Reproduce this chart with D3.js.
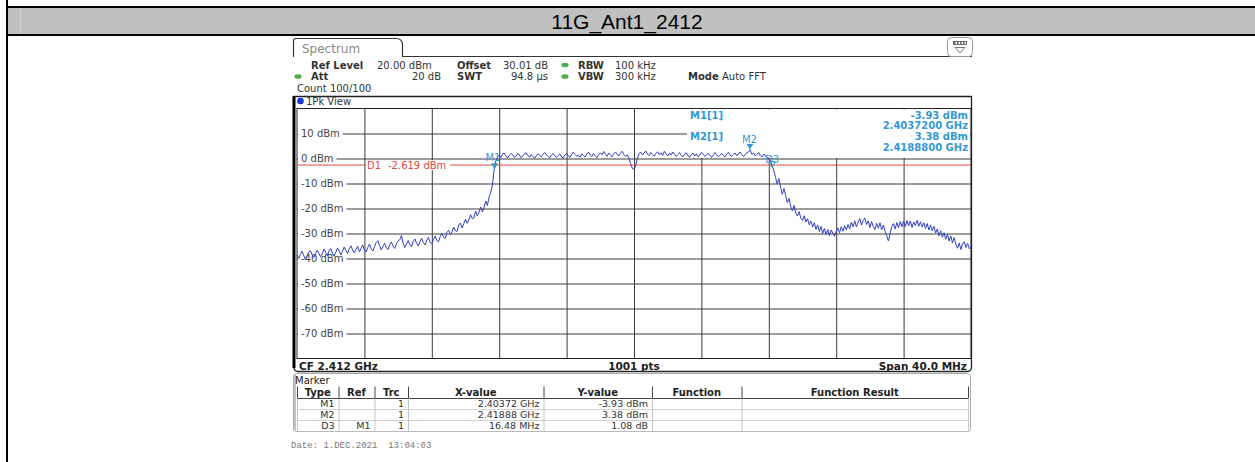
<!DOCTYPE html>
<html><head><meta charset="utf-8">
<script src="https://cdn.jsdelivr.net/npm/d3@7"></script>
<style>
body{margin:0;background:#fff;}
svg{display:block;}
text{font-family:"DejaVu Sans",Verdana,sans-serif;}
</style>
</head><body>
<svg id="c" width="1255" height="462"></svg>
<script>
// ---------------- data ----------------
const chartTitle = "11G_Ant1_2412";
const freqStartGHz = 2.392;
const freqStopGHz = 2.432;
const levelTop = 20;
const levelBottom = -80;
const levelTicks = [10, 0, -10, -20, -30, -40, -50, -60, -70];
const levelTickLabels = ["10 dBm", "0 dBm", "-10 dBm", "-20 dBm", "-30 dBm", "-40 dBm", "-50 dBm", "-60 dBm", "-70 dBm"];
const displayLineLevel = -2.619;
const displayLineLabel = ["D1", "-2.619 dBm"];
// trace levels (dBm), equally spaced sweep points across the span
const traceLevels = [
 -38.6,-39.9,-38.4,-37.1,-38.8,-40.2,-39.0,-37.4,-36.9,-38.5,
 -39.6,-38.0,-36.7,-37.9,-39.3,-38.1,-36.2,-37.4,-38.9,-37.0,
 -36.0,-37.8,-39.0,-37.5,-35.8,-36.9,-38.6,-37.2,-35.4,-36.8,
 -38.0,-36.1,-34.9,-36.6,-37.8,-36.3,-35.1,-37.4,-36.0,-34.6,
 -36.5,
 -37.4,-35.6,-34.2,-36.1,-37.0,-35.3,-33.6,-32.9,-34.8,-36.6,
 -35.2,-33.9,-35.7,-36.4,-34.5,-33.4,-35.0,-36.0,-34.1,-33.0,
 -32.5,-30.8,-33.9,-35.6,-34.2,-32.8,-34.5,-35.3,-33.1,-32.2,
 -34.0,-35.0,-33.2,-31.9,-33.6,-34.6,-32.7,-31.6,-33.5,-34.1,
 -32.4,-31.0,-32.8,-33.3,-31.2,-29.9,-31.6,-32.0,-29.6,-28.7,
 -30.3,-29.4,-27.4,-28.9,-29.2,-26.6,-25.8,-27.8,-26.0,-24.3,
 -25.9,-24.6,-22.5,-24.1,-23.8,-21.0,-22.9,-21.6,-19.4,-21.3,
 -19.6,-17.0,-18.8,-15.4,-13.6,-10.5,-4.5,-1.0,0.6,1.3,
 0.4,1.8,2.2,1.0,0.2,1.3,2.0,1.5,0.5,0.9,
 2.1,1.4,0.3,1.0,1.9,2.3,1.2,0.6,1.6,0.8,
 0.1,1.1,1.9,1.3,0.7,1.7,2.4,1.5,0.8,0.3,
 1.4,2.0,1.1,0.5,1.2,1.8,0.6,0.2,1.5,2.1,
 1.0,0.4,1.7,2.5,1.6,0.9,1.3,0.5,1.9,1.2,
 0.6,1.8,2.6,1.4,0.8,2.0,1.1,0.4,1.6,2.3,
 1.5,2.8,1.7,0.9,2.2,1.3,0.7,1.9,2.6,1.8,
 1.0,2.1,2.9,1.6,0.8,1.4,0.2,-2.1,-3.9,-4.3,
 -2.8,0.1,1.9,2.6,1.4,2.2,3.0,1.8,1.1,2.4,
 1.6,0.9,2.0,2.7,1.5,2.3,1.2,2.9,1.9,1.0,
 2.2,1.4,2.6,1.7,0.8,1.5,2.4,1.3,0.6,1.8,
 2.3,1.1,0.5,1.6,2.2,1.0,1.9,0.7,1.4,2.5,
 1.7,0.9,1.5,2.1,1.2,0.4,1.3,2.4,1.6,0.8,
 1.2,2.0,1.3,0.6,1.8,2.5,1.4,0.9,1.6,2.2,
 1.1,1.9,2.6,1.5,0.8,1.7,2.3,2.7,3.4,1.6,
 2.2,1.0,1.7,2.4,1.1,0.6,1.8,0.9,0.3,
 0.2,-1.0,-2.9,-4.8,-7.5,-10.2,-8.0,-11.6,-14.3,-12.0,-14.8,
 -17.6,-16.0,-19.2,-20.9,-18.8,-21.8,-23.0,-21.2,-23.9,-24.8,
 -22.9,-25.4,-24.1,-26.5,-25.0,-27.4,-25.7,-28.3,-26.6,-29.2,
 -27.2,-29.9,-28.0,-30.4,-28.4,-30.9,-28.6,-29.8,-31.2,-29.0,
 -27.8,-29.7,-27.3,-29.1,-26.8,-28.6,-26.4,-28.2,-25.4,-27.3,
 -24.9,-27.4,-25.5,-24.0,-26.7,-24.8,-23.8,-26.4,-24.9,-27.6,
 -25.2,-27.3,-28.4,-25.9,-27.9,-25.7,-28.5,-26.6,-29.2,-30.9,
 -33.0,-30.0,-27.2,-26.0,-28.2,-25.6,-27.7,-25.2,-27.3,-25.0,
 -27.2,-24.8,-26.9,-25.0,-27.6,-25.4,-26.8,-24.7,-27.1,-25.3,
 -27.4,-25.7,-28.0,-26.0,-28.6,-26.6,-28.9,-27.1,-29.8,-28.2,
 -30.9,-28.9,-31.5,-29.7,-32.3,-30.2,-33.0,-31.0,-33.7,-31.6,
 -34.3,-35.9,-33.8,-36.4,-34.2,-33.3,-35.6,-33.9,-36.1,-35.5
];
const markerNames = ["M1", "M2", "D3"];
const markerFreqsGHz = [2.40372, 2.41888, 2.42020];
const markerLevels = [-3.93, 3.38, -2.85];
const markerInfoNames = ["M1[1]", "M2[1]"];
const markerInfoLevels = ["-3.93 dBm", "3.38 dBm"];
const markerInfoFreqs = ["2.4037200 GHz", "2.4188800 GHz"];
const tableHeaders = ["Type", "Ref", "Trc", "X-value", "Y-value", "Function", "Function Result"];
const tableTypes = ["M1", "M2", "D3"];
const tableRefs = ["", "", "M1"];
const tableTrcs = ["1", "1", "1"];
const tableXValues = ["2.40372 GHz", "2.41888 GHz", "16.48 MHz"];
const tableYValues = ["-3.93 dBm", "3.38 dBm", "1.08 dB"];
const footerLeft = "CF 2.412 GHz", footerMid = "1001 pts", footerRight = "Span 40.0 MHz";
const dateText = "Date: 1.DEC.2021  13:04:03";

// ---------------- layout ----------------
const svg = d3.select("#c");
const px0 = 297, px1 = 971, py0 = 108.5, py1 = 358.5;
const x = d3.scaleLinear().domain([freqStartGHz, freqStopGHz]).range([px0, px1]);
const y = d3.scaleLinear().domain([levelBottom, levelTop]).range([py1, py0]);
const traceFreqs = d3.range(traceLevels.length).map(i => freqStartGHz + i * (freqStopGHz - freqStartGHz) / (traceLevels.length - 1));

const markerBlue = "#3399d6", traceBlue = "#2f3fc2", red = "#e2483f";

// outer page frame
svg.append("rect").attr("x", 8).attr("y", 8).attr("width", 1247).attr("height", 26).attr("fill", "#c0c0c0");
svg.append("line").attr("x1", 20.5).attr("x2", 20.5).attr("y1", 8).attr("y2", 34).attr("stroke", "#d4d4d4");
svg.append("line").attr("x1", 6).attr("x2", 1255).attr("y1", 7).attr("y2", 7).attr("stroke", "#000").attr("stroke-width", 2);
svg.append("line").attr("x1", 6).attr("x2", 1255).attr("y1", 35).attr("y2", 35).attr("stroke", "#000").attr("stroke-width", 2);
svg.append("line").attr("x1", 7).attr("x2", 7).attr("y1", 0).attr("y2", 462).attr("stroke", "#000").attr("stroke-width", 2);
svg.append("text").attr("x", 627).attr("y", 28.5).attr("text-anchor", "middle")
  .style("font-family", "'Liberation Sans Narrow','Arial Narrow','Liberation Sans',sans-serif")
  .style("font-size", "21px").attr("fill", "#000").text(chartTitle);

// Spectrum tab
svg.append("path").attr("d", "M293.5,57 V41 Q293.5,38.5 296.5,38.5 H396 Q402.5,38.5 402.5,45 V56.5 H972")
  .attr("fill", "none").attr("stroke", "#333").attr("stroke-width", 1.2);
svg.append("text").attr("x", 302).attr("y", 52.5).style("font-size", "12px").attr("fill", "#8a8a8a").text("Spectrum");
// icon
svg.append("rect").attr("x", 947.5).attr("y", 37.5).attr("width", 25).attr("height", 19).attr("rx", 4)
  .attr("fill", "#fff").attr("stroke", "#999");
svg.append("rect").attr("x", 953).attr("y", 41).attr("width", 14).attr("height", 4).attr("fill", "#666");
[955.5, 958.5, 961.5, 964.5].forEach(cx => svg.append("rect").attr("x", cx).attr("y", 42).attr("width", 1.5).attr("height", 2).attr("fill", "#fff"));
svg.append("path").attr("d", "M955,47.5 H965 L960,53 Z").attr("fill", "none").attr("stroke", "#777");

// settings text
function t(xp, yp, s, opts = {}) {
  return svg.append("text").attr("x", xp).attr("y", yp).style("font-size", (opts.size || 10) + "px")
    .style("font-weight", opts.bold ? "bold" : "normal").attr("fill", opts.fill || "#333")
    .attr("text-anchor", opts.anchor || "start").style("white-space", "pre").text(s);
}
function dot(cx, cy) {
  svg.append("ellipse").attr("cx", cx).attr("cy", cy).attr("rx", 3.6).attr("ry", 2.3).attr("fill", "#4cae4c");
}
t(311, 68.5, "Ref Level", {bold: true}); t(377, 68.5, "20.00 dBm");
t(457, 68.5, "Offset", {bold: true}); t(548, 68.5, "30.01 dB", {anchor: "end"});
dot(565, 65); t(578, 68.5, "RBW", {bold: true}); t(615, 68.5, "100 kHz");
dot(298, 76.5); t(311, 80, "Att", {bold: true}); t(441, 80, "20 dB", {anchor: "end"});
t(457, 80, "SWT", {bold: true}); t(548, 80, "94.8 µs", {anchor: "end"});
dot(565, 76.5); t(578, 80, "VBW", {bold: true}); t(615, 80, "300 kHz");
t(688, 80, "Mode", {bold: true}); t(722, 80, "Auto FFT");
t(297, 91.5, "Count 100/100");

// 1Pk View frame
svg.append("path").attr("d", `M294,96.5 H971.5 V367 Q971.5,371.5 967,371.5 H298 Q294,371.5 294,367 Z`)
  .attr("fill", "#fff").attr("stroke", "#222").attr("stroke-width", 1.3);
svg.append("line").attr("x1", 294).attr("x2", 294).attr("y1", 96).attr("y2", 368).attr("stroke", "#000").attr("stroke-width", 3);
svg.append("circle").attr("cx", 300.5).attr("cy", 101).attr("r", 3.3).attr("fill", "#1f35d0");
t(306, 104.5, "1Pk View");

// grid via axes
const yAxis = d3.axisLeft(y).tickValues(levelTicks).tickSize(-(px1 - px0)).tickPadding(0)
  .tickFormat((d, i) => levelTickLabels[i]);
const gy = svg.append("g").attr("transform", `translate(${px0},0)`).call(yAxis);
gy.select(".domain").remove();
gy.selectAll(".tick line").attr("stroke", "#3a3a3a").attr("stroke-width", 1);
gy.selectAll(".tick text").attr("x", 4).attr("text-anchor", "start").attr("fill", "#444")
  .style("font-family", "'DejaVu Sans',sans-serif").style("font-size", "10px");

const divs = d3.range(1, 10).map(k => freqStartGHz + k * (freqStopGHz - freqStartGHz) / 10);
const xAxis = d3.axisBottom(x).tickValues(divs).tickSize(-(py1 - py0)).tickFormat("");
const gx = svg.append("g").attr("transform", `translate(0,${py1})`).call(xAxis);
gx.select(".domain").remove();
gx.selectAll(".tick line").attr("stroke", "#3a3a3a").attr("stroke-width", 1);

// plot border
svg.append("rect").attr("x", px0).attr("y", py0).attr("width", px1 - px0).attr("height", py1 - py0)
  .attr("fill", "none").attr("stroke", "#222").attr("stroke-width", 1);

// label backgrounds
gy.selectAll(".tick").each(function() {
  const g = d3.select(this);
  const bb = g.select("text").node().getBBox();
  g.insert("rect", "text").attr("x", 1).attr("y", bb.y + 1).attr("width", bb.width + 6).attr("height", bb.height - 2).attr("fill", "#fff");
});

// marker info background
svg.append("rect").attr("x", 687).attr("y", py0 + 1).attr("width", px1 - 688).attr("height", y(0) - py0 - 1.5).attr("fill", "#fff");

// display line
svg.append("line").attr("x1", px0).attr("x2", px1).attr("y1", y(displayLineLevel)).attr("y2", y(displayLineLevel))
  .attr("stroke", red).attr("stroke-width", 1);
svg.append("rect").attr("x", 366).attr("y", y(displayLineLevel) - 5).attr("width", 84).attr("height", 10).attr("fill", "#fff");
t(367, y(displayLineLevel) + 4, displayLineLabel[0], {fill: red});
t(388, y(displayLineLevel) + 4, displayLineLabel[1], {fill: red});

// trace
const line = d3.line().x((d, i) => x(traceFreqs[i])).y(d => y(d));
svg.append("path").datum(traceLevels).attr("d", line).attr("fill", "none")
  .attr("stroke", traceBlue).attr("stroke-width", 1).attr("stroke-linejoin", "round");

// markers
markerNames.forEach((m, i) => {
  const mx = x(markerFreqsGHz[i]), my = y(markerLevels[i]);
  if (m === "D3") {
    svg.append("path").attr("d", `M${mx - 3},${my - 4} L${mx + 3},${my - 4} L${mx},${my + 2} Z`)
      .attr("fill", "none").attr("stroke", markerBlue).attr("stroke-width", 1);
    t(mx - 7, my - 2.5, m, {fill: markerBlue, size: 10});
  } else if (m === "M2") {
    svg.append("line").attr("x1", mx).attr("x2", mx).attr("y1", my - 5).attr("y2", my).attr("stroke", markerBlue);
    svg.append("path").attr("d", `M${mx - 3.5},${my - 6} L${mx + 3.5},${my - 6} L${mx},${my - 1} Z`).attr("fill", markerBlue);
    t(mx - 8, my - 7, m, {fill: markerBlue, size: 10});
  } else {
    svg.append("path").attr("d", `M${mx - 3.5},${my - 5} L${mx + 3.5},${my - 5} L${mx},${my + 1} Z`).attr("fill", markerBlue);
    t(mx - 9, my - 7, m, {fill: markerBlue, size: 10});
  }
});

// marker info text
markerInfoNames.forEach((n, i) => {
  const by = 118.5 + i * 21.5;
  t(690, by, n, {bold: true, fill: markerBlue});
  t(968, by, markerInfoLevels[i], {bold: true, fill: markerBlue, anchor: "end"});
  t(968, by + 10.8, markerInfoFreqs[i], {bold: true, fill: markerBlue, anchor: "end"});
});

// footer bar
svg.append("line").attr("x1", px0).attr("x2", px1).attr("y1", py1).attr("y2", py1).attr("stroke", "#222");
t(299, 369.5, footerLeft, {bold: true, size: 10.5, fill: "#222"});
t(634, 369.5, footerMid, {bold: true, size: 10.5, fill: "#222", anchor: "middle"});
t(967, 369.5, footerRight, {bold: true, size: 10.5, fill: "#222", anchor: "end"});

// marker table
svg.append("rect").attr("x", 293.5).attr("y", 373.5).attr("width", 677).attr("height", 58).attr("rx", 3)
  .attr("fill", "#fff").attr("stroke", "#aaa");
svg.append("line").attr("x1", 295).attr("x2", 295).attr("y1", 375).attr("y2", 430).attr("stroke", "#888");
t(295, 384, "Marker", {fill: "#222"});
const colEdges = [297, 338.5, 374.5, 408, 543.5, 652, 741.5, 968];
const hTop = 386.5, hBot = 398.5, rowH = 11;
svg.append("line").attr("x1", colEdges[0]).attr("x2", colEdges[7]).attr("y1", hBot).attr("y2", hBot).attr("stroke", "#444");
for (let r = 1; r <= 3; r++) {
  svg.append("line").attr("x1", colEdges[0]).attr("x2", colEdges[7]).attr("y1", hBot + r * rowH).attr("y2", hBot + r * rowH)
    .attr("stroke", r === 3 ? "#bbb" : "#d0d0d0");
}
colEdges.forEach((cx, i) => {
  svg.append("line").attr("x1", cx + 0.5).attr("x2", cx + 0.5).attr("y1", hTop).attr("y2", hBot).attr("stroke", "#444");
  svg.append("line").attr("x1", cx + 0.5).attr("x2", cx + 0.5).attr("y1", hBot).attr("y2", hBot + 3 * rowH).attr("stroke", "#c4c4c4");
});
tableHeaders.forEach((h, i) => {
  t((colEdges[i] + colEdges[i + 1]) / 2, 396, h, {bold: true, fill: "#222", anchor: "middle"});
});
const rowCols = [tableTypes, tableRefs, tableTrcs, tableXValues, tableYValues];
rowCols.forEach((col, ci) => {
  col.forEach((v, ri) => {
    t(colEdges[ci + 1] - 4, hBot + ri * rowH + 8.5, v, {fill: "#333", size: 9.5, anchor: "end"});
  });
});

// date
svg.append("text").attr("x", 291).attr("y", 448).style("font-family", "'Liberation Mono','DejaVu Sans Mono',monospace")
  .style("font-size", "9px").style("white-space", "pre").attr("fill", "#777").text(dateText);
</script>
</body></html>
